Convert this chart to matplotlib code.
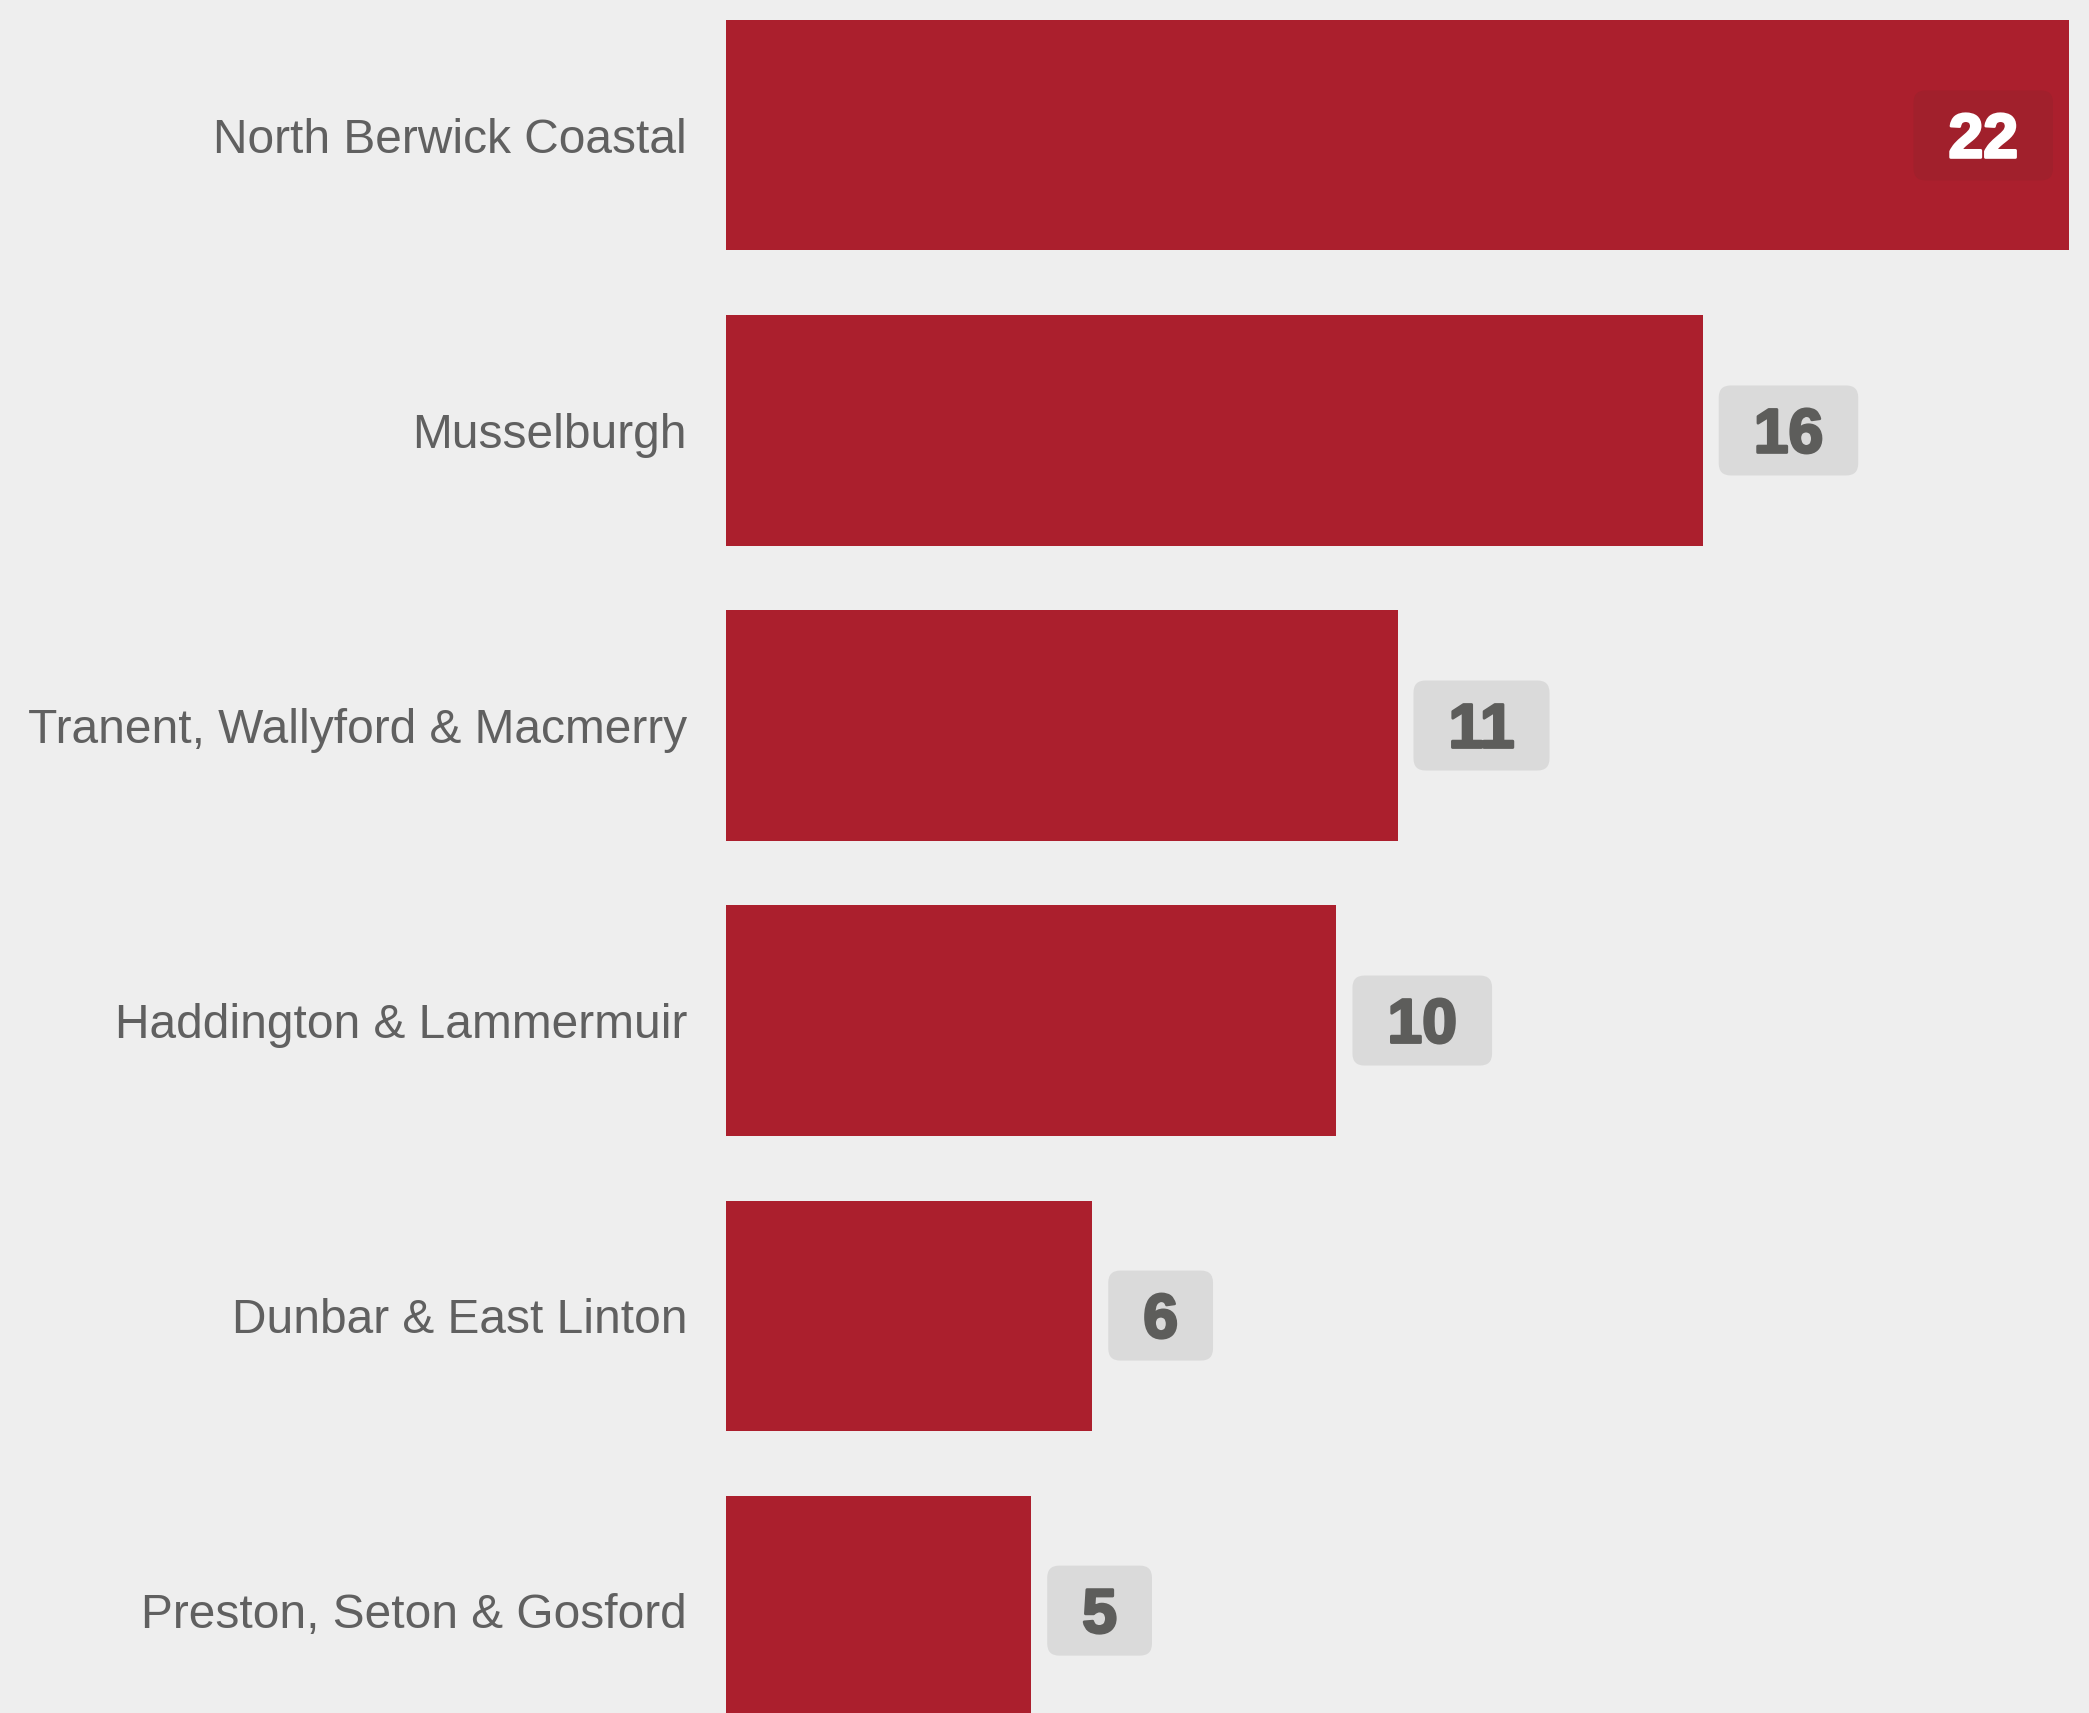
import matplotlib
matplotlib.use("Agg")
import matplotlib.pyplot as plt
from matplotlib.patches import FancyBboxPatch
from matplotlib.transforms import IdentityTransform
import matplotlib.patheffects as pe

categories = ["North Berwick Coastal", "Musselburgh", "Tranent, Wallyford & Macmerry",
              "Haddington & Lammermuir", "Dunbar & East Linton", "Preston, Seton & Gosford"]
values = [22, 16, 11, 10, 6, 5]

BG = "#eeeeee"
BAR = "#ab1f2d"
BOX_OUT = "#dadada"
BOX_IN = "#a1202c"
TXT = "#5d5d5b"

W, H, DPI = 2089, 1713, 100
fig = plt.figure(figsize=(W / DPI, H / DPI), dpi=DPI, facecolor=BG)
ax = fig.add_axes([726 / W, 0, (2089 - 726) / W, 1])
ax.set_facecolor(BG)

pos = list(range(len(categories)))
ax.barh(pos, values, height=0.78, color=BAR, zorder=1)
ax.set_xlim(0, 22 * (2089 - 726) / (2069 - 726))
ax.set_ylim(5.347, -0.459)
ax.set_yticks(pos)
ax.set_yticklabels(categories, fontsize=34.5, color="#606060", family="Liberation Sans")
ax.tick_params(axis="y", length=0, pad=28)
ax.set_xticks([])
for s in ax.spines.values():
    s.set_visible(False)

vmax = max(values)
texts = []
for p, v in zip(pos, values):
    inside = v == vmax
    col = "white" if inside else TXT
    if inside:
        t = ax.annotate(str(v), xy=(v, p), xytext=(-16 - 35, -22), textcoords="offset pixels",
                        ha="right", va="baseline", fontsize=45, fontweight="bold",
                        family="Liberation Sans", color=col, zorder=5)
    else:
        t = ax.annotate(str(v), xy=(v, p), xytext=(16 + 35, -22), textcoords="offset pixels",
                        ha="left", va="baseline", fontsize=45, fontweight="bold",
                        family="Liberation Sans", color=col, zorder=5)
    t.set_path_effects([pe.withStroke(linewidth=2.0, foreground=col)])
    texts.append((t, p, v, inside))

fig.canvas.draw()
r = fig.canvas.get_renderer()
for t, p, v, inside in texts:
    bb = t.get_window_extent(r)
    xc_disp, yc_disp = ax.transData.transform((v, p))
    bw = bb.width + 2 * 35
    bh = 90
    if inside:
        x0 = xc_disp - 16 - bw
    else:
        x0 = xc_disp + 16
    y0 = yc_disp - bh / 2
    box = FancyBboxPatch((x0 + 12, y0 + 12), bw - 24, bh - 24,
                         boxstyle="round,pad=12", transform=IdentityTransform(),
                         facecolor=BOX_IN if inside else BOX_OUT, edgecolor="none",
                         zorder=3, clip_on=False)
    ax.add_artist(box)

fig.savefig("out.png", dpi=DPI, facecolor=BG)
